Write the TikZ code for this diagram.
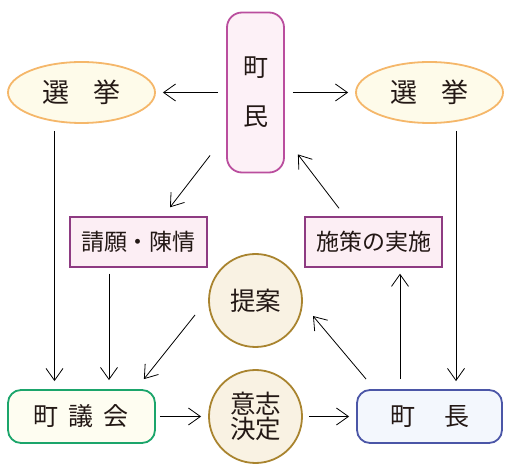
\documentclass[tikz,border=0pt]{standalone}
\usepackage{fontspec}
\setmainfont{Noto Sans CJK JP}
\usepackage{tikz}
\usetikzlibrary{shapes.geometric,arrows.meta}

\definecolor{txt}{HTML}{231815}
\definecolor{chouminLine}{HTML}{BA4E9E}
\definecolor{chouminFill}{HTML}{FDF1F7}
\definecolor{voteLine}{HTML}{F5B76A}
\definecolor{voteFill}{HTML}{FEFBEA}
\definecolor{reqLine}{HTML}{8E3B82}
\definecolor{reqFill}{HTML}{FCEEF4}
\definecolor{actLine}{HTML}{A9842F}
\definecolor{actFill}{HTML}{F9F2E3}
\definecolor{gikaiLine}{HTML}{1BA56B}
\definecolor{gikaiFill}{HTML}{FEFDF1}
\definecolor{mayorLine}{HTML}{4B56A7}
\definecolor{mayorFill}{HTML}{F3F7FD}

\begin{document}
\begin{tikzpicture}[x=1pt,y=-1pt,line width=0.8pt,
    >={Straight Barb[length=12pt,width=17pt]},
    every node/.style={text=txt,inner sep=0pt,font=\fontsize{23}{27}\selectfont},
    town/.style={draw=chouminLine,fill=chouminFill,line width=1.8pt,rounded corners=15pt,
        minimum width=57pt,minimum height=160pt,align=center,font=\fontsize{25}{28}\selectfont},
    vote/.style={ellipse,draw=voteLine,fill=voteFill,line width=1.8pt,
        minimum width=147pt,minimum height=61pt,font=\fontsize{27}{30}\selectfont},
    req/.style={draw=reqLine,fill=reqFill,line width=1.4pt,minimum width=137pt,minimum height=50pt},
    act/.style={circle,draw=actLine,fill=actFill,line width=1.8pt,minimum size=93pt,
        align=center,font=\fontsize{25.5}{25.5}\selectfont},
    gikaibox/.style={draw=gikaiLine,fill=gikaiFill,line width=1.8pt,rounded corners=13pt,
        minimum width=147pt,minimum height=53pt,font=\fontsize{25}{28}\selectfont},
    mayorbox/.style={draw=mayorLine,fill=mayorFill,line width=1.8pt,rounded corners=13pt,
        minimum width=145pt,minimum height=53pt,font=\fontsize{25}{28}\selectfont}]
    \useasboundingbox (0,0) rectangle (512,473);

    \node[town] (choumin) at (255.5,92.5) {町\\[21pt]民};
    \node[vote] (senkyoL) at (81.5,92.5) {選\hspace{25pt}挙};
    \node[vote] (senkyoR) at (429.5,92.5) {選\hspace{25pt}挙};
    \node[req] (seigan) at (138.5,242) {請願・陳情};
    \node[req] (shisaku) at (373.5,242) {施策の実施};
    \node[act] (teian) at (255.5,300.5) {提案};
    \node[act] (kettei) at (255.5,416.5) {意志\\決定};
    \node[gikaibox] (gikai) at (81.5,416.5) {町\hspace{10pt}議\hspace{10pt}会};
    \node[mayorbox] (chouchou) at (429.5,416.5) {町\hspace{29pt}長};

    \draw[->] ([shift={(-8,0)}]choumin.west) -- ([shift={(7,0)}]senkyoL.east);
    \draw[->] ([shift={(8,0)}]choumin.east) -- ([shift={(-7,0)}]senkyoR.west);
    \draw[->] ([shift={(-27,7)}]senkyoL.south) -- ([shift={(-27,-8)}]gikai.north);
    \draw[->] ([shift={(26.5,7)}]senkyoR.south) -- ([shift={(26.5,-8)}]chouchou.north);
    \draw[->] ([shift={(-16,-18)}]choumin.south west) -- ([shift={(31.5,-9)}]seigan.north);
    \draw[->] ([shift={(-29.5,6)}]seigan.south) -- ([shift={(-29.5,-9)}]seigan.south |- gikai.north);
    \draw[->] ([shift={(-60.5,14.5)}]teian.center) -- ([shift={(-12,-10)}]gikai.north east);
    \draw[->] ([shift={(4,0)}]gikai.east) -- ([shift={(-7,0)}]kettei.west);
    \draw[->] ([shift={(6,0)}]kettei.east) -- ([shift={(-7,0)}]chouchou.west);
    \draw[->] ([shift={(-29.5,-10)}]chouchou.north) -- ([shift={(26.5,6)}]shisaku.south);
    \draw[->] ([shift={(10,-10)}]chouchou.north west) -- ([shift={(57.5,15.5)}]teian.center);
    \draw[->] ([shift={(-34.5,-8)}]shisaku.north) -- ([shift={(13,-19)}]choumin.south east);
\end{tikzpicture}
\end{document}
